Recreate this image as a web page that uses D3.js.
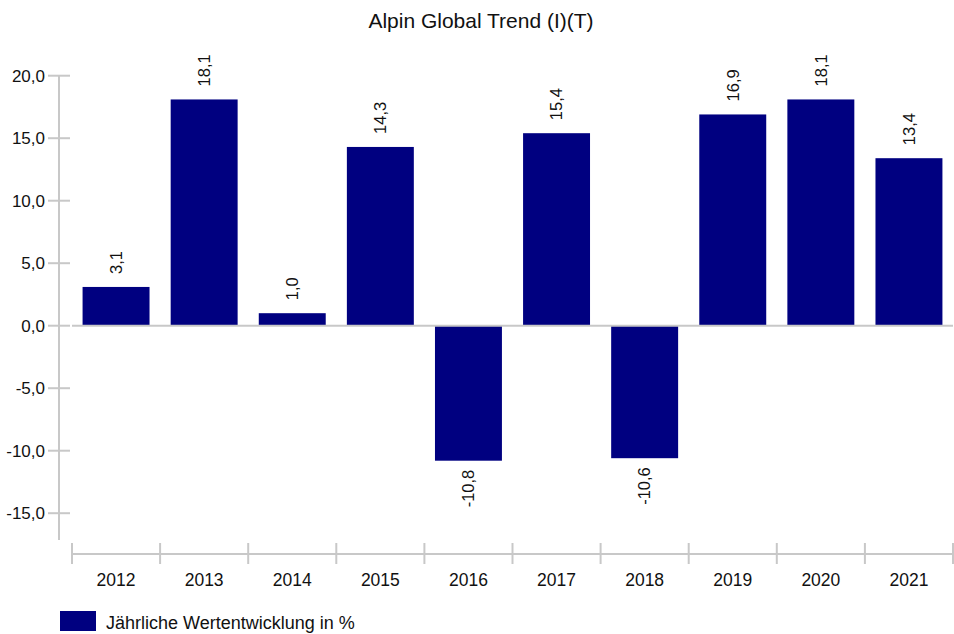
<!DOCTYPE html>
<html><head><meta charset="utf-8">
<script src="https://cdn.jsdelivr.net/npm/d3@7"></script>
<style>body{margin:0;background:#fff}svg{display:block;font-family:"Liberation Sans",Arial,sans-serif}</style>
</head><body><svg id="c" width="954" height="634"></svg>
<script>
const years = ["2012","2013","2014","2015","2016","2017","2018","2019","2020","2021"];
const values = [3.1, 18.1, 1.0, 14.3, -10.8, 15.4, -10.6, 16.9, 18.1, 13.4];
const yTicks = [20, 15, 10, 5, 0, -5, -10, -15];
const title = "Alpin Global Trend (I)(T)";
const legendLabel = "Jährliche Wertentwicklung in %";

const svg = d3.select("#c");
const fmt = v => v.toFixed(1).replace(".", ",");
const gray = "#c8c8c8";
const y = d3.scaleLinear().domain([-15, 20]).range([513.2, 75.7]);
const x = d3.scaleBand().domain(years).range([72, 953]).paddingInner(0.24).paddingOuter(0.12);

svg.append("text").attr("x", 481).attr("y", 28).attr("text-anchor", "middle")
  .attr("font-size", 21).attr("fill", "#111").text(title);

// y axis
svg.append("line").attr("x1", 59).attr("x2", 59).attr("y1", y(20)).attr("y2", 540)
  .attr("stroke", gray).attr("stroke-width", 2);
const yt = svg.append("g").selectAll("g").data(yTicks).join("g");
yt.append("line").attr("x1", 48).attr("x2", 70).attr("y1", d => y(d)).attr("y2", d => y(d))
  .attr("stroke", gray).attr("stroke-width", 2);
yt.append("text").attr("x", 45).attr("y", d => y(d)).attr("dy", "0.35em").attr("text-anchor", "end")
  .attr("font-size", 17).attr("fill", "#111").text(d => fmt(d));

// bars
svg.append("g").selectAll("rect").data(values).join("rect")
  .attr("x", (d, i) => x(years[i])).attr("width", x.bandwidth())
  .attr("y", d => y(Math.max(0, d))).attr("height", d => Math.abs(y(d) - y(0)))
  .attr("fill", "#000080");

// zero line
svg.append("line").attr("x1", 72).attr("x2", 953).attr("y1", y(0)).attr("y2", y(0))
  .attr("stroke", gray).attr("stroke-width", 2);

// value labels
svg.append("g").selectAll("text").data(values).join("text")
  .attr("transform", (d, i) => {
    const cx = x(years[i]) + x.bandwidth() / 2;
    const yy = d >= 0 ? y(d) - 13 : y(d) + 9;
    return `translate(${cx},${yy}) rotate(-90)`;
  })
  .attr("text-anchor", d => d >= 0 ? "start" : "end")
  .attr("dy", "0.35em").attr("font-size", 16.5).attr("fill", "#111")
  .text(d => fmt(d));

// x axis
const xa = svg.append("g");
xa.append("line").attr("x1", 72).attr("x2", 953).attr("y1", 554).attr("y2", 554)
  .attr("stroke", gray).attr("stroke-width", 2);
const bounds = years.map(d => x(d) - x.step() * x.paddingInner() / 2).concat([953]);
xa.selectAll("line.t").data(bounds).join("line").attr("class", "t")
  .attr("x1", (d, i) => i === 0 ? 72 : d).attr("x2", (d, i) => i === 0 ? 72 : d)
  .attr("y1", 543).attr("y2", 564).attr("stroke", gray).attr("stroke-width", 2);
xa.selectAll("text").data(years).join("text")
  .attr("x", d => x(d) + x.bandwidth() / 2).attr("y", 586).attr("text-anchor", "middle")
  .attr("font-size", 17.5).attr("fill", "#111").text(d => d);

// legend
svg.append("rect").attr("x", 60).attr("y", 611).attr("width", 36).attr("height", 20).attr("fill", "#000080");
svg.append("text").attr("x", 106).attr("y", 629).attr("font-size", 18).attr("fill", "#111").text(legendLabel);
</script></body></html>
